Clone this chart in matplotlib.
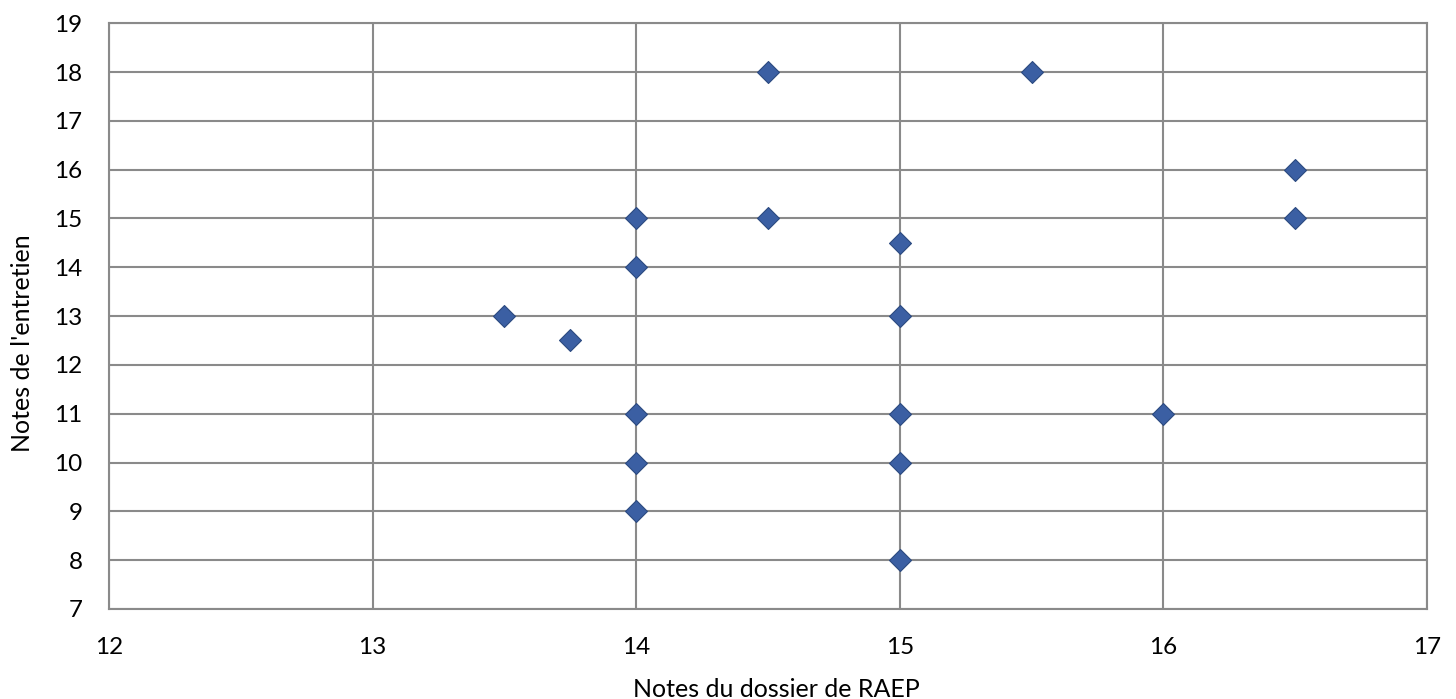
import matplotlib.pyplot as plt

# Notes du dossier (x) et de l'entretien (y)
notes_dossier = [14.5, 15.5, 16.5, 16.5, 14, 14.5, 15, 14, 13.5, 15, 13.75,
                 14, 15, 16, 14, 15, 14, 15]
notes_entretien = [18, 18, 16, 15, 15, 15, 14.5, 14, 13, 13, 12.5,
                   11, 11, 11, 10, 10, 9, 8]

x_ticks = [12, 13, 14, 15, 16, 17]
y_ticks = list(range(7, 20))

plt.rcParams['font.family'] = ['Lato', 'DejaVu Sans']

fig = plt.figure(figsize=(14.56, 6.99), dpi=100)
ax = fig.add_axes([0.0749, 0.1288, 0.9052, 0.838])

grid_col = '#8a8a8a'
ax.scatter(notes_dossier, notes_entretien, marker='D', s=125,
           color='#3b5fa3', edgecolors='#2c4a80', linewidths=0.8, zorder=3)

ax.set_xlim(12, 17)
ax.set_ylim(7, 19)
ax.set_xticks(x_ticks)
ax.set_yticks(y_ticks)
ax.grid(True, color=grid_col, linewidth=1.5)
ax.set_axisbelow(True)
for s in ax.spines.values():
    s.set_color(grid_col)
    s.set_linewidth(1.5)
ax.tick_params(length=0, labelsize=17.5, pad=19)
ax.tick_params(axis='x', pad=20)

ax.set_xlabel('Notes du dossier de RAEP', fontsize=18, va='center')
ax.set_ylabel("Notes de l'entretien", fontsize=18, va='center')
ax.xaxis.set_label_coords(0.506, -0.137)
ax.yaxis.set_label_coords(-0.066, 0.454)

fig.savefig('out.png', dpi=100)
